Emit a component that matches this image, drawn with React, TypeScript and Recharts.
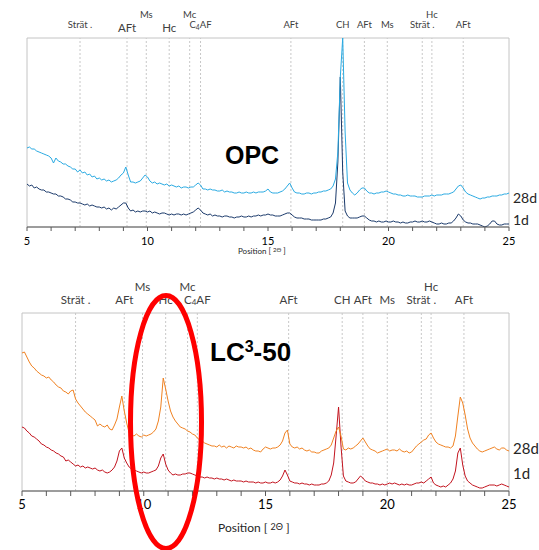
import React from "react";
import { LineChart, Line, XAxis, YAxis, ReferenceLine, ReferenceArea } from "recharts";

// 2θ scan grid, 0.1° step from 5 to 25
const TWO_THETA = Array.from({ length: 201 }, (_, i) => (50 + i) / 10);
const TICKS = [5, 6, 7, 8, 9, 10, 11, 12, 13, 14, 15, 16, 17, 18, 19, 20, 21, 22, 23, 24, 25];

// OPC, intensities (arbitrary units)
const OPC_28D = [
  79, 80, 78, 78, 76, 75, 74, 73, 72, 71,
  69, 64, 69, 66, 65, 63, 63, 61, 60, 58,
  58, 55, 57, 54, 55, 52, 53, 50, 51, 48,
  49, 47, 48, 46, 47, 45, 46, 47, 49, 52,
  54, 60, 52, 45, 45, 44, 45, 46, 49, 52,
  50, 46, 44, 45, 43, 44, 43, 42, 43, 41,
  42, 41, 40, 41, 39, 40, 40, 39, 40, 40,
  42, 44, 42, 38, 38, 37, 38, 37, 37, 36,
  36, 37, 35, 36, 35, 35, 34, 34, 35, 34,
  34, 35, 34, 34, 35, 34, 35, 35, 35, 36,
  38, 35, 34, 34, 34, 35, 36, 38, 41, 44,
  39, 35, 34, 34, 33, 33, 34, 34, 33, 34,
  34, 35, 35, 36, 36, 37, 38, 41, 48, 75,
  150, 189, 95, 44, 37, 34, 32, 34, 37, 39,
  39, 36, 34, 34, 33, 34, 34, 35, 35, 36,
  35, 34, 33, 33, 32, 32, 31, 31, 32, 31,
  31, 31, 30, 30, 30, 31, 31, 31, 32, 31,
  32, 32, 32, 33, 33, 33, 34, 35, 38, 41,
  42, 39, 35, 33, 32, 31, 30, 29, 28, 29,
  29, 30, 30, 31, 31, 31, 32, 32, 33, 33,
  34,
];
const OPC_1D = [
  43, 41, 42, 39, 40, 38, 37, 37, 35, 35,
  34, 33, 33, 31, 31, 30, 28, 28, 27, 25,
  25, 24, 24, 23, 22, 23, 21, 22, 21, 20,
  20, 19, 20, 18, 19, 17, 19, 18, 20, 22,
  24, 24, 19, 16, 17, 15, 16, 15, 16, 16,
  15, 16, 14, 15, 14, 13, 14, 14, 13, 12,
  13, 12, 13, 13, 12, 13, 12, 13, 14, 15,
  17, 19, 17, 14, 13, 12, 13, 11, 12, 11,
  11, 10, 11, 11, 10, 10, 9, 10, 10, 11,
  10, 10, 11, 10, 11, 11, 12, 11, 12, 12,
  13, 12, 12, 11, 11, 11, 12, 13, 14, 14,
  12, 10, 9, 9, 9, 8, 8, 8, 7, 7,
  7, 7, 7, 8, 8, 9, 10, 14, 24, 65,
  150, 55, 16, 11, 9, 9, 9, 9, 10, 11,
  11, 9, 7, 6, 6, 5, 6, 5, 5, 6,
  5, 5, 6, 5, 5, 4, 5, 4, 4, 5,
  5, 6, 5, 5, 6, 5, 5, 6, 5, 4,
  3, 3, 4, 3, 3, 4, 4, 6, 9, 13,
  11, 7, 5, 4, 4, 3, 3, 3, 2, 1,
  0, 1, 3, 6, 6, 3, 2, 2, 3, 3,
  3,
];

// LC3-50
const LC3_28D = [
  138, 139, 134, 129, 125, 123, 120, 118, 116, 115,
  113, 114, 111, 109, 106, 104, 103, 100, 99, 97,
  100, 101, 92, 88, 85, 82, 79, 77, 75, 73,
  71, 65, 67, 65, 64, 66, 62, 61, 66, 72,
  84, 95, 80, 68, 58, 56, 55, 57, 55, 54,
  56, 55, 56, 57, 59, 62, 70, 84, 113, 102,
  90, 80, 74, 70, 67, 64, 63, 62, 60, 59,
  57, 56, 53, 51, 50, 48, 47, 46, 45, 45,
  44, 46, 44, 45, 43, 45, 44, 43, 45, 44,
  44, 43, 44, 42, 43, 41, 40, 40, 39, 42,
  44, 43, 42, 43, 43, 44, 46, 50, 58, 61,
  47, 44, 43, 44, 42, 43, 41, 40, 41, 39,
  39, 38, 38, 40, 41, 42, 43, 46, 53, 60,
  64, 55, 42, 41, 43, 42, 43, 45, 47, 50,
  53, 49, 45, 42, 41, 40, 38, 39, 40, 41,
  42, 40, 41, 41, 40, 42, 40, 39, 40, 38,
  39, 42, 45, 47, 49, 51, 52, 56, 58, 53,
  49, 47, 46, 45, 44, 44, 43, 45, 55, 75,
  94, 88, 76, 62, 53, 48, 45, 42, 40, 39,
  40, 41, 42, 43, 44, 42, 41, 43, 43, 41,
  40,
];
const LC3_1D = [
  64, 63, 60, 58, 55, 54, 52, 50, 47, 46,
  44, 43, 41, 40, 38, 37, 35, 34, 30, 31,
  29, 27, 25, 26, 24, 25, 23, 24, 23, 22,
  23, 21, 20, 21, 19, 18, 19, 21, 24, 30,
  40, 43, 33, 28, 24, 22, 21, 20, 19, 18,
  19, 18, 18, 19, 20, 21, 25, 33, 37, 27,
  21, 18, 16, 17, 16, 16, 17, 17, 18, 18,
  17, 16, 15, 14, 14, 13, 14, 13, 13, 12,
  13, 12, 12, 11, 12, 11, 10, 11, 10, 10,
  10, 9, 10, 9, 9, 9, 8, 9, 8, 8,
  9, 8, 8, 9, 8, 9, 11, 15, 21, 16,
  10, 9, 8, 8, 7, 8, 7, 7, 6, 7,
  6, 6, 6, 7, 7, 8, 10, 16, 28, 55,
  84, 45, 15, 10, 9, 8, 8, 9, 12, 15,
  13, 10, 9, 8, 8, 7, 7, 6, 7, 6,
  7, 8, 7, 8, 7, 6, 7, 6, 7, 6,
  6, 7, 8, 8, 9, 8, 10, 12, 14, 8,
  6, 5, 4, 5, 4, 6, 8, 12, 20, 38,
  43, 26, 15, 10, 8, 6, 5, 4, 3, 3,
  4, 5, 6, 6, 6, 5, 6, 7, 6, 5,
  4,
];

// phase reflections marked above each pattern
const PHASES = ["Strät .", "AFt", "Ms", "Hc", "Mc", "C4AF", "AFt", "CH", "AFt", "Ms", "Strät .", "Hc", "AFt"];
const PHASE_ROW = [0, 0, 1, 0, 1, 0, 0, 0, 0, 0, 0, 1, 0];
const OPC_PHASE_POS = [7.2, 9.15, 9.95, 10.9, 11.75, 12.2, 15.95, 18.1, 19.0, 19.95, 21.4, 21.8, 23.1];
const LC3_PHASE_POS = [7.2, 9.2, 9.95, 10.9, 11.8, 12.2, 15.95, 18.15, 19.0, 20.0, 21.4, 21.8, 23.15];

const opcData = TWO_THETA.map((x, i) => ({ x, d28: OPC_28D[i], d1: OPC_1D[i] }));
const lc3Data = TWO_THETA.map((x, i) => ({ x, d28: LC3_28D[i], d1: LC3_1D[i] }));

const FONT = "Lato, 'Open Sans', sans-serif";

function PhaseTag(props: any) {
  const { viewBox, text, cy, size } = props;
  if (!viewBox) return null;
  const x = viewBox.x;
  const content =
    text === "C4AF" ? (
      <>
        <tspan>C</tspan>
        <tspan fontSize={size * 0.7} dy={size * 0.3}>4</tspan>
        <tspan dy={-size * 0.3}>AF</tspan>
      </>
    ) : (
      text
    );
  return (
    <text x={x} y={cy} textAnchor="middle" dominantBaseline="central" fontSize={size} fill="#404040" fontFamily={FONT}>
      {content}
    </text>
  );
}

interface PanelProps {
  data: { x: number; d28: number; d1: number }[];
  phasePos: number[];
  yMax: number;
  height: number;
  margin: { top: number; right: number; bottom: number; left: number };
  axisHeight: number;
  tickFont: number;
  tickSize: number;
  tickMargin: number;
  colors: [string, string];
  tagFont: number[];
  tagY: number[];
}

function Panel(p: PanelProps) {
  return (
    <LineChart width={539} height={p.height} data={p.data} margin={p.margin}>
      <ReferenceArea x1={5} x2={25} y1={0} y2={p.yMax} fill="none" stroke="#c4c4c4" ifOverflow="visible" />
      {p.phasePos.map((pos, i) => (
        <ReferenceLine
          key={i}
          x={pos}
          stroke="#c8c8c8"
          strokeDasharray="2 2"
          label={<PhaseTag text={PHASES[i]} cy={p.tagY[i]} size={p.tagFont[i]} />}
        />
      ))}
      <XAxis
        type="number"
        dataKey="x"
        domain={[5, 25]}
        ticks={TICKS}
        interval={0}
        allowDataOverflow
        height={p.axisHeight}
        tickSize={p.tickSize}
        tickMargin={p.tickMargin}
        tickFormatter={(v: number) => (v % 5 === 0 ? String(v) : "")}
        tick={{ fontSize: p.tickFont, fill: "#000", fontFamily: FONT }}
        axisLine={{ stroke: "#595959" }}
        tickLine={{ stroke: "#595959" }}
      />
      <YAxis width={0} domain={[0, p.yMax]} tick={false} tickLine={false} axisLine={{ stroke: "#595959" }} allowDataOverflow />
      <Line type="linear" dataKey="d1" stroke={p.colors[1]} strokeWidth={1} dot={false} isAnimationActive={false} />
      <Line type="linear" dataKey="d28" stroke={p.colors[0]} strokeWidth={1} dot={false} isAnimationActive={false} />
    </LineChart>
  );
}

const abs = (left: number, top: number, extra: React.CSSProperties = {}): React.CSSProperties => ({
  position: "absolute",
  left,
  top,
  lineHeight: 1,
  whiteSpace: "nowrap",
  ...extra,
});

export default function App() {
  // top labels: lower row centred at 24 (27 for the bigger AFt/Hc), upper row at 14
  const opcTagY = PHASE_ROW.map((r, i) => (r ? 14 : i === 1 || i === 3 ? 27 : 24));
  const opcTagFont = PHASES.map((_, i) => (i === 1 || i === 3 ? 11.5 : 9.5));
  const lc3TagY = PHASE_ROW.map((r) => (r ? 16 : 29));
  const lc3TagFont = PHASES.map(() => 11.5);

  return (
    <div style={{ position: "absolute", left: 0, top: 0, width: 539, height: 550, overflow: "hidden", background: "#fff" }}>
      <div style={{ position: "absolute", left: 0, top: 0 }}>
        <Panel
          data={opcData}
          phasePos={OPC_PHASE_POS}
          yMax={189}
          height={260}
          margin={{ top: 38, right: 30, bottom: 3, left: 27 }}
          axisHeight={30}
          tickFont={11}
          tickSize={4}
          tickMargin={6}
          colors={["#2aaae2", "#1b3a6b"]}
          tagFont={opcTagFont}
          tagY={opcTagY}
        />
      </div>
      <div style={{ position: "absolute", left: 0, top: 270 }}>
        <Panel
          data={lc3Data}
          phasePos={LC3_PHASE_POS}
          yMax={178}
          height={280}
          margin={{ top: 43, right: 30, bottom: 19, left: 22 }}
          axisHeight={40}
          tickFont={13}
          tickSize={5}
          tickMargin={4}
          colors={["#f08222", "#c3141f"]}
          tagFont={lc3TagFont}
          tagY={lc3TagY}
        />
      </div>

      <div style={abs(238, 247, { fontSize: 8, fontFamily: FONT, color: "#262626" })}>
        Position [ <span style={{ fontSize: 6, verticalAlign: "top" }}>2Θ</span> ]
      </div>
      <div style={abs(218, 522, { fontSize: 12, fontFamily: FONT, color: "#262626" })}>
        Position [ <span style={{ fontSize: 9, verticalAlign: "top" }}>2Θ</span> ]
      </div>

      <div style={abs(225, 143, { fontSize: 25, fontWeight: 700, fontFamily: "'Liberation Sans', Arial, sans-serif" })}>OPC</div>
      <div style={abs(210, 339, { fontSize: 26, fontWeight: 700, fontFamily: "'Liberation Sans', Arial, sans-serif" })}>
        LC<span style={{ fontSize: 16, verticalAlign: "top" }}>3</span>-50
      </div>

      <div style={abs(513, 191, { fontSize: 14, fontFamily: FONT, color: "#262626" })}>28d</div>
      <div style={abs(513, 213, { fontSize: 14, fontFamily: FONT, color: "#262626" })}>1d</div>
      <div style={abs(513, 441, { fontSize: 15, fontFamily: FONT, color: "#262626" })}>28d</div>
      <div style={abs(513, 466, { fontSize: 15, fontFamily: FONT, color: "#262626" })}>1d</div>

      <svg width={539} height={550} style={{ position: "absolute", left: 0, top: 0, pointerEvents: "none" }}>
        <ellipse cx={166} cy={422} rx={35.5} ry={126.5} fill="none" stroke="#ff0000" strokeWidth={5} />
      </svg>
    </div>
  );
}
